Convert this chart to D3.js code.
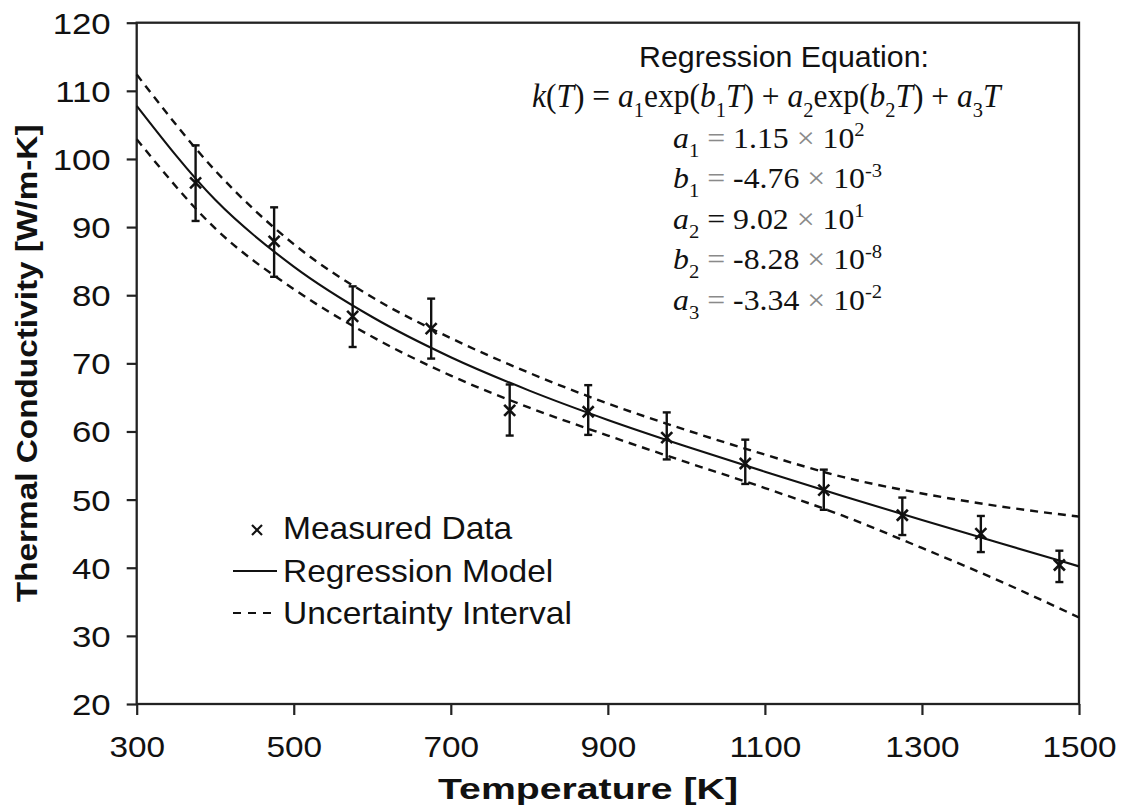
<!DOCTYPE html>
<html>
<head>
<meta charset="UTF-8">
<title>Thermal Conductivity vs Temperature</title>
<script src="https://cdn.jsdelivr.net/npm/d3@7/dist/d3.min.js"></script>
<style>
  body { margin: 0; background: #fff; }
  text { white-space: pre; }
</style>
</head>
<body>
<svg id="chart" width="1127" height="810"></svg>
<script>
var modelT = [300, 400, 500, 600, 700, 800, 900, 1000, 1100, 1200, 1300, 1400, 1500];
var modelK = [107.8, 94.0, 84.2, 76.8, 70.9, 66.0, 61.7, 57.8, 54.1, 50.5, 47.0, 43.6, 40.2];
var upperK = [112.4, 98.3, 87.5, 79.7, 73.7, 68.6, 64.1, 60.2, 56.6, 53.3, 50.9, 49.0, 47.5];
var lowerK = [102.9, 89.8, 80.9, 73.9, 68.2, 63.5, 59.4, 55.5, 51.7, 47.6, 42.9, 38.0, 32.7];

// measured points with error bars
var measT = [375, 475, 575, 675, 775, 875, 975, 1075, 1175, 1275, 1375, 1475];
var measK = [96.5, 87.9, 76.9, 75.1, 63.1, 62.9, 59.1, 55.3, 51.4, 47.7, 45.0, 40.4];
var errLow = [90.9, 82.7, 72.4, 70.7, 59.4, 59.5, 55.9, 52.3, 48.5, 44.8, 42.3, 37.9];
var errHigh = [102.0, 92.9, 81.3, 79.5, 66.9, 66.8, 62.8, 58.8, 54.4, 50.3, 47.6, 42.5];

var xTicks = [300, 500, 700, 900, 1100, 1300, 1500];
var yTicks = [20, 30, 40, 50, 60, 70, 80, 90, 100, 110, 120];

var legendLabels = ["Measured Data", "Regression Model", "Uncertainty Interval"];

var width = 1127, height = 810;
var margin = { top: 22.7, right: 48, bottom: 106, left: 136.7 };
var sans = "'Liberation Sans', Arial, sans-serif";
var serif = "'Liberation Serif', 'Times New Roman', serif";
var ink = "#111";

var svg = d3.select("#chart");

var x = d3.scaleLinear().domain([300, 1500]).range([margin.left, width - margin.right]);
var y = d3.scaleLinear().domain([20, 120]).range([height - margin.bottom, margin.top]);

// horizontal factor that makes a text cover w pixels
function fit(t, w) {
    var bw = t.node().getBBox().width;
    return w / bw;
}

// axes
var yAxis = svg.append("g")
    .attr("transform", `translate(${x(300)},0)`)
    .call(d3.axisLeft(y).tickValues(yTicks).tickSize(10).tickSizeOuter(0).tickFormat(d3.format("d")));
yAxis.select(".domain").remove();
yAxis.selectAll(".tick line").attr("stroke", "#222").attr("stroke-width", 2.2);
yAxis.selectAll(".tick text")
    .attr("x", 0).attr("dy", null)
    .attr("transform", "translate(-26,10.5) scale(1.2,1)")
    .attr("fill", ink)
    .style("font-family", sans).style("font-size", "29px");

var xAxis = svg.append("g")
    .attr("transform", `translate(0,${y(20)})`)
    .call(d3.axisBottom(x).tickValues(xTicks).tickSize(11).tickSizeOuter(0).tickFormat(d3.format("d")));
xAxis.select(".domain").remove();
xAxis.selectAll(".tick line").attr("stroke", "#222").attr("stroke-width", 2.2);
xAxis.selectAll(".tick text")
    .attr("y", 0).attr("dy", null)
    .attr("transform", "translate(0,53) scale(1.15,1)")
    .attr("fill", ink)
    .style("font-family", sans).style("font-size", "29px");

// plot frame
svg.append("rect")
    .attr("x", x(300)).attr("y", y(120))
    .attr("width", x(1500) - x(300)).attr("height", y(20) - y(120))
    .attr("fill", "none").attr("stroke", "#222").attr("stroke-width", 2.3);

// axis titles
var xt = svg.append("text")
    .attr("text-anchor", "middle")
    .attr("fill", ink)
    .style("font-family", sans).style("font-size", "30px").style("font-weight", "bold")
    .text("Temperature [K]");
xt.attr("transform", `translate(588,799) scale(${fit(xt, 300)},1)`);

var yt = svg.append("text")
    .attr("text-anchor", "middle")
    .attr("fill", ink)
    .style("font-family", sans).style("font-size", "30px").style("font-weight", "bold")
    .text("Thermal Conductivity [W/m-K]");
yt.attr("transform", `translate(37,${(y(20) + y(120)) / 2}) rotate(-90) scale(${fit(yt, 478)},1)`);

// curves
var curve = function (vals) {
    return d3.line()
        .x(function (d, i) { return x(modelT[i]); })
        .y(function (d) { return y(d); })
        .curve(d3.curveMonotoneX)(vals);
};
[upperK, lowerK].forEach(function (vals) {
    svg.append("path")
        .attr("d", curve(vals))
        .attr("fill", "none").attr("stroke", ink)
        .attr("stroke-width", 2.4).attr("stroke-dasharray", "8,6");
});
svg.append("path")
    .attr("d", curve(modelK))
    .attr("fill", "none").attr("stroke", ink).attr("stroke-width", 2.1);

// error bars
var bars = svg.append("g").attr("stroke", ink).attr("stroke-width", 2.4);
measT.forEach(function (t, i) {
    var cx = x(t);
    bars.append("line").attr("x1", cx).attr("x2", cx).attr("y1", y(errLow[i])).attr("y2", y(errHigh[i]));
    bars.append("line").attr("x1", cx - 4).attr("x2", cx + 4).attr("y1", y(errLow[i])).attr("y2", y(errLow[i]));
    bars.append("line").attr("x1", cx - 4).attr("x2", cx + 4).attr("y1", y(errHigh[i])).attr("y2", y(errHigh[i]));
});

// x markers
function cross(g, cx, cy, r) {
    g.append("line").attr("x1", cx - r).attr("y1", cy - r).attr("x2", cx + r).attr("y2", cy + r);
    g.append("line").attr("x1", cx - r).attr("y1", cy + r).attr("x2", cx + r).attr("y2", cy - r);
}
var marks = svg.append("g").attr("stroke", ink).attr("stroke-width", 2.6);
measT.forEach(function (t, i) {
    cross(marks, x(t), y(measK[i]), 5.5);
});

// legend
var leg = svg.append("g");
var legY = [539, 582, 624];
cross(leg.append("g").attr("stroke", ink).attr("stroke-width", 2.2), 257, 530, 5);
leg.append("line").attr("x1", 233).attr("x2", 277).attr("y1", 571).attr("y2", 571)
    .attr("stroke", ink).attr("stroke-width", 2);
leg.append("line").attr("x1", 233).attr("x2", 277).attr("y1", 613).attr("y2", 613)
    .attr("stroke", ink).attr("stroke-width", 2).attr("stroke-dasharray", "8,7");
legendLabels.forEach(function (s, i) {
    leg.append("text")
        .attr("transform", `translate(283,${legY[i]}) scale(1.1,1)`)
        .attr("fill", ink)
        .style("font-family", sans).style("font-size", "30.5px")
        .text(s);
});

// regression equation block
var eqTitle = svg.append("text")
    .attr("text-anchor", "middle")
    .attr("fill", ink)
    .style("font-family", sans).style("font-size", "29.5px")
    .text("Regression Equation:");
eqTitle.attr("transform", `translate(784,66.5) scale(${fit(eqTitle, 290)},1)`);

function richText(parts, size) {
    var t = svg.append("text").attr("fill", ink)
        .style("font-family", serif).style("font-size", size + "px");
    var shift = 0;
    parts.forEach(function (p) {
        var s = t.append("tspan").text(p.t);
        var target = p.sub ? 0.3 * size : (p.sup ? -0.38 * size : 0);
        if (target !== shift) s.attr("dy", target - shift);
        shift = target;
        if (p.sub || p.sup) s.style("font-size", (size * 0.65) + "px");
        if (p.i) s.style("font-style", "italic");
        if (p.c) s.attr("fill", p.c);
    });
    return t;
}

var eq = richText([
    { t: "k", i: true }, { t: "(" }, { t: "T", i: true }, { t: ") = " },
    { t: "a", i: true }, { t: "1", sub: true }, { t: "exp(" }, { t: "b", i: true }, { t: "1", sub: true }, { t: "T", i: true }, { t: ") + " },
    { t: "a", i: true }, { t: "2", sub: true }, { t: "exp(" }, { t: "b", i: true }, { t: "2", sub: true }, { t: "T", i: true }, { t: ") + " },
    { t: "a", i: true }, { t: "3", sub: true }, { t: "T", i: true }
], 33);
eq.attr("transform", `translate(532,107) scale(${fit(eq, 471)},1)`);

var grey = "#8a8a8a";
var params = [
    ["a", "1", "1.15", "2", grey],
    ["b", "1", "-4.76", "-3", grey],
    ["a", "2", "9.02", "1", ink],
    ["b", "2", "-8.28", "-8", grey],
    ["a", "3", "-3.34", "-2", grey]
];
params.forEach(function (p, i) {
    var t = richText([
        { t: p[0], i: true }, { t: p[1], sub: true }, { t: " " }, { t: "=", c: p[4] },
        { t: " " + p[2] + " " }, { t: "\u00d7", c: grey }, { t: " 10" }, { t: p[3], sup: true }
    ], 30);
    t.attr("transform", `translate(673,${147.5 + i * 40.5}) scale(1.06,1)`);
});
</script>
</body>
</html>
